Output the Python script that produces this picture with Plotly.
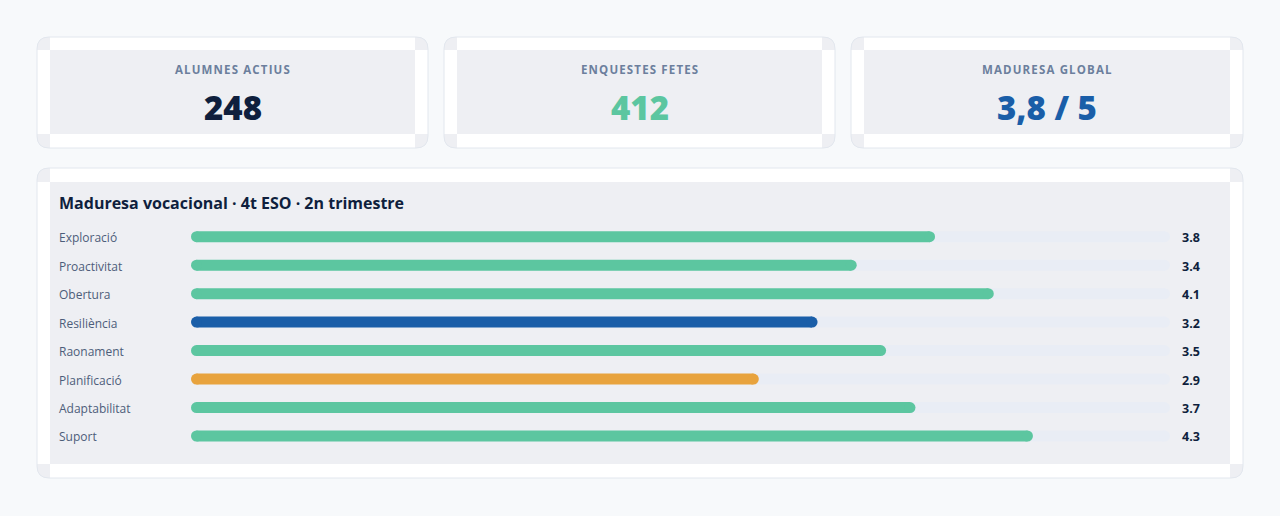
import plotly.graph_objects as go

W, H = 1280, 516

# ---------------- data ----------------
categories = ["Exploració", "Proactivitat", "Obertura", "Resiliència",
              "Raonament", "Planificació", "Adaptabilitat", "Suport"]
values = [3.8, 3.4, 4.1, 3.2, 3.55, 2.9, 3.7, 4.3]
bar_colors = ["#5cc6a0", "#5cc6a0", "#5cc6a0", "#1a5ea8",
              "#5cc6a0", "#e8a33d", "#5cc6a0", "#5cc6a0"]
value_labels = ["3.8", "3.4", "4.1", "3.2", "3.5", "2.9", "3.7", "4.3"]
scale_max = 5

kpi_labels = ["ALUMNES ACTIUS", "ENQUESTES FETES", "MADURESA GLOBAL"]
kpi_values = ["248", "412", "3,8 / 5"]
kpi_colors = ["#0f1f3d", "#5cc6a0", "#1a5ea8"]

chart_title = "Maduresa vocacional · 4t ESO · 2n trimestre"

# ---------------- styles ----------------
FONT = "Open Sans"
PAGE_BG = "#f7f9fb"
CARD_BORDER = "#e2e7ee"
INNER_GREY = "#eeeff3"
TRACK = "#e9edf5"
NAVY = "#0f1f3d"
LABEL_COL = "#4d5d7a"
KPI_LABEL_COL = "#6c7f9d"

BAR_PX = 11
PLOT_X0, PLOT_X1 = 191, 1170
ROW0, ROW_STEP = 236.7, 28.47


def px(x):
    return x / W


def py(y):
    return 1 - y / H


def rounded_path(x0, y0, x1, y1, r):
    pts = [
        f"M {px(x0 + r)},{py(y0)}",
        f"L {px(x1 - r)},{py(y0)}",
        f"Q {px(x1)},{py(y0)} {px(x1)},{py(y0 + r)}",
        f"L {px(x1)},{py(y1 - r)}",
        f"Q {px(x1)},{py(y1)} {px(x1 - r)},{py(y1)}",
        f"L {px(x0 + r)},{py(y1)}",
        f"Q {px(x0)},{py(y1)} {px(x0)},{py(y1 - r)}",
        f"L {px(x0)},{py(y0 + r)}",
        f"Q {px(x0)},{py(y0)} {px(x0 + r)},{py(y0)}",
        "Z",
    ]
    return " ".join(pts)


shapes = []


def rect(x0, y0, x1, y1, color):
    shapes.append(dict(type="rect", xref="paper", yref="paper",
                       x0=px(x0), x1=px(x1), y0=py(y1), y1=py(y0),
                       fillcolor=color, line=dict(width=0), layer="below"))


def card(x0, y0, x1, y1, inset_x=13, inset_top=13, inset_bot=14):
    shapes.append(dict(type="path", xref="paper", yref="paper",
                       path=rounded_path(x0, y0, x1, y1, 12),
                       fillcolor=INNER_GREY, line=dict(width=0), layer="below"))
    ix0, ix1 = x0 + inset_x, x1 - inset_x
    iy0, iy1 = y0 + inset_top, y1 - inset_bot
    rect(ix0, y0, ix1, iy0, "white")
    rect(ix0, iy1, ix1, y1, "white")
    rect(x0, iy0, ix0, iy1, "white")
    rect(ix1, iy0, x1, iy1, "white")
    shapes.append(dict(type="path", xref="paper", yref="paper",
                       path=rounded_path(x0, y0, x1, y1, 12),
                       fillcolor="rgba(0,0,0,0)", line=dict(width=1, color=CARD_BORDER),
                       layer="below"))


def spaced(s):
    return "\u200a".join(s)


annotations = []

# KPI cards
kpi_x = [(37, 428), (444, 835), (851, 1243)]
for (x0, x1), lab, val, col in zip(kpi_x, kpi_labels, kpi_values, kpi_colors):
    card(x0, 37, x1, 148)
    cx = (x0 + x1) / 2
    annotations.append(dict(xref="paper", yref="paper", x=px(cx), y=py(69),
                            text=f"<b>{spaced(lab)}</b>", showarrow=False,
                            xanchor="center", yanchor="middle",
                            font=dict(family=FONT, size=11.5, color=KPI_LABEL_COL)))
    annotations.append(dict(xref="paper", yref="paper", x=px(cx), y=py(107),
                            text=val, showarrow=False,
                            xanchor="center", yanchor="middle",
                            font=dict(family=FONT, size=33, color=col, weight=800)))

# Main card
card(37, 168, 1243, 478, inset_x=13, inset_top=14, inset_bot=14)
annotations.append(dict(xref="paper", yref="paper", x=px(57), y=py(203),
                        text=f"<b>{chart_title}</b>", showarrow=False,
                        xanchor="left", yanchor="middle",
                        font=dict(family=FONT, size=16, color=NAVY)))

fig = go.Figure()

unit_px = (PLOT_X1 - PLOT_X0) / scale_max
r_data = (BAR_PX / 2) / unit_px
n = len(categories)

# tracks
for i in range(n):
    fig.add_trace(go.Scatter(
        x=[r_data, scale_max - r_data], y=[i, i], mode="lines+markers",
        line=dict(color=TRACK, width=BAR_PX),
        marker=dict(color=TRACK, size=BAR_PX),
        hoverinfo="skip", showlegend=False))

# bars
for i, (cat, v, c) in enumerate(zip(categories, values, bar_colors)):
    fig.add_trace(go.Scatter(
        x=[r_data, v - r_data], y=[i, i], mode="lines+markers",
        line=dict(color=c, width=BAR_PX),
        marker=dict(color=c, size=BAR_PX),
        name=cat, hovertemplate=f"{cat}: {v}<extra></extra>", showlegend=False))

for i, (cat, vl) in enumerate(zip(categories, value_labels)):
    annotations.append(dict(xref="paper", yref="y", x=px(57), y=i,
                            text=cat, showarrow=False, xanchor="left", yanchor="middle",
                            yshift=-1,
                            font=dict(family=FONT, size=12, color=LABEL_COL)))
    annotations.append(dict(xref="paper", yref="y", x=px(1180), y=i,
                            text=f"<b>{vl}</b>", showarrow=False, xanchor="left",
                            yanchor="middle", yshift=-1,
                            font=dict(family=FONT, size=12.5, color=NAVY)))

y_top = ROW0 - ROW_STEP / 2
y_bot = ROW0 + ROW_STEP * (n - 0.5)

fig.update_layout(
    width=W, height=H,
    margin=dict(l=0, r=0, t=0, b=0),
    paper_bgcolor=PAGE_BG, plot_bgcolor="rgba(0,0,0,0)",
    shapes=shapes, annotations=annotations,
    xaxis=dict(range=[0, scale_max], domain=[px(PLOT_X0), px(PLOT_X1)],
               visible=False, fixedrange=True),
    yaxis=dict(range=[n - 0.5, -0.5], domain=[py(y_bot), py(y_top)],
               visible=False, fixedrange=True),
    showlegend=False,
)

fig.write_html("out.html")
